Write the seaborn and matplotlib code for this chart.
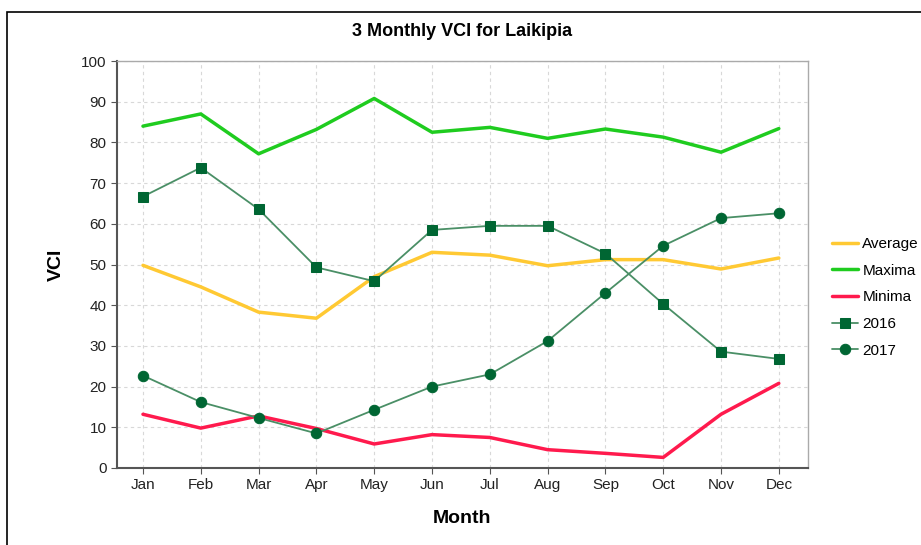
import matplotlib
matplotlib.use("Agg")
import matplotlib.pyplot as plt
import seaborn as sns
import pandas as pd
from matplotlib.patches import Rectangle

months = ['Jan', 'Feb', 'Mar', 'Apr', 'May', 'Jun', 'Jul', 'Aug', 'Sep', 'Oct', 'Nov', 'Dec']
average = [49.8, 44.5, 38.3, 36.8, 47.0, 53.0, 52.3, 49.7, 51.2, 51.2, 48.9, 51.6]
maxima = [84.0, 87.0, 77.2, 83.2, 90.8, 82.5, 83.7, 81.0, 83.3, 81.3, 77.6, 83.4]
minima = [13.2, 9.8, 12.8, 9.7, 5.9, 8.2, 7.5, 4.5, 3.6, 2.6, 13.2, 20.8]
vci_2016 = [66.7, 73.8, 63.6, 49.3, 45.9, 58.5, 59.5, 59.5, 52.7, 40.3, 28.6, 26.8]
vci_2017 = [22.7, 16.2, 12.3, 8.5, 14.3, 20.0, 23.0, 31.2, 43.0, 54.6, 61.4, 62.6]

df = pd.DataFrame({'month': months, 'Average': average, 'Maxima': maxima,
                   'Minima': minima, '2016': vci_2016, '2017': vci_2017})
df['pos'] = range(len(months))

sns.set_style('white')
plt.rcParams['font.family'] = ['Liberation Sans', 'DejaVu Sans']
plt.rcParams['text.color'] = 'black'
plt.rcParams['axes.labelcolor'] = 'black'
plt.rcParams['xtick.color'] = '#222222'
plt.rcParams['ytick.color'] = '#222222'

fig = plt.figure(figsize=(9.21, 5.45), dpi=100)
ax = fig.add_axes([0.127, 0.1413, 0.750, 0.7467])

sns.lineplot(data=df, x='pos', y='Average', color='#ffc933', linewidth=2.5, label='Average', ax=ax)
sns.lineplot(data=df, x='pos', y='Maxima', color='#1fcc1f', linewidth=2.5, label='Maxima', ax=ax)
sns.lineplot(data=df, x='pos', y='Minima', color='#ff1a4d', linewidth=2.5, label='Minima', ax=ax)
sns.lineplot(data=df, x='pos', y='2016', color='#4a8f66', linewidth=1.3, marker='s', markersize=7.5,
             markerfacecolor='#006633', markeredgecolor='#006633', label='2016', ax=ax)
sns.lineplot(data=df, x='pos', y='2017', color='#4a8f66', linewidth=1.3, marker='o', markersize=7.5,
             markerfacecolor='#006633', markeredgecolor='#006633', label='2017', ax=ax)

ax.set_xlim(-0.45, 11.5)
ax.set_ylim(0, 100)
ax.set_xticks(df['pos'])
ax.set_xticklabels(months)
ax.set_yticks(range(0, 101, 10))
ax.tick_params(labelsize=11, length=4, color='#555555', direction='out', bottom=True, left=True)
ax.grid(True, linestyle=(0, (3, 3)), color='#d8d8d8', linewidth=0.8)

for side in ['left', 'bottom']:
    ax.spines[side].set_color('#555555')
    ax.spines[side].set_linewidth(1.5)
for side in ['top', 'right']:
    ax.spines[side].set_color('#aaaaaa')
    ax.spines[side].set_linewidth(1)

ax.set_title('3 Monthly VCI for Laikipia', fontsize=13, fontweight='bold', pad=18)
ax.set_xlabel('Month', fontsize=14, fontweight='bold', labelpad=13)
ax.set_ylabel('VCI', fontsize=14, fontweight='bold', labelpad=12)

ax.legend(loc='center left', bbox_to_anchor=(1.015, 0.419), frameon=False, fontsize=11,
          handlelength=1.7, handletextpad=0.3, labelspacing=0.83)

fig.patches.append(Rectangle((7 / 921, -0.1), 1.2, 1 - 12 / 545 + 0.1, transform=fig.transFigure,
                             fill=False, edgecolor='black', linewidth=1.2))

fig.savefig('out.png', dpi=100)
